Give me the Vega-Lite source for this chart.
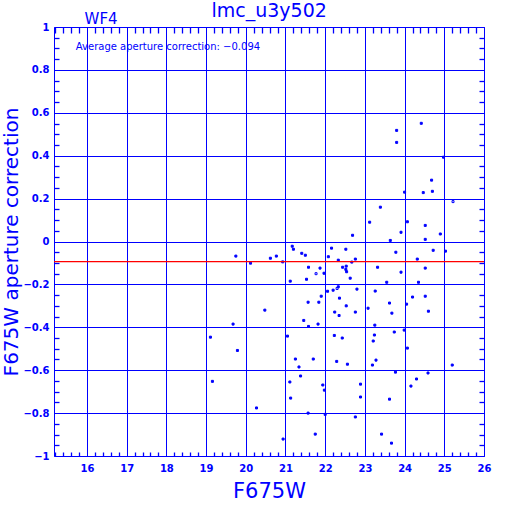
{
  "$schema": "https://vega.github.io/schema/vega-lite/v6.json",
  "width": 430,
  "height": 429,
  "autosize": "none",
  "padding": {"left": 54, "top": 27, "right": 28, "bottom": 56},
  "background": "white",
  "config": {"view": {"stroke": "#0000ff", "strokeWidth": 1}, "font": "DejaVu Sans"},
  "datasets": {
    "points": [
      {"x": 19.75, "y": -0.068, "kind": "filled"},
      {"x": 20.12, "y": -0.101, "kind": "filled"},
      {"x": 20.62, "y": -0.078, "kind": "filled"},
      {"x": 20.77, "y": -0.068, "kind": "filled"},
      {"x": 20.93, "y": -0.095, "kind": "filled"},
      {"x": 21.17, "y": -0.022, "kind": "filled"},
      {"x": 21.20, "y": -0.036, "kind": "filled"},
      {"x": 21.41, "y": -0.055, "kind": "filled"},
      {"x": 21.50, "y": -0.064, "kind": "filled"},
      {"x": 21.58, "y": -0.120, "kind": "filled"},
      {"x": 21.87, "y": -0.124, "kind": "filled"},
      {"x": 21.77, "y": -0.150, "kind": "open"},
      {"x": 21.97, "y": -0.148, "kind": "filled"},
      {"x": 22.08, "y": -0.071, "kind": "filled"},
      {"x": 22.16, "y": -0.031, "kind": "filled"},
      {"x": 22.33, "y": -0.087, "kind": "filled"},
      {"x": 21.12, "y": -0.185, "kind": "filled"},
      {"x": 21.53, "y": -0.176, "kind": "filled"},
      {"x": 22.06, "y": -0.232, "kind": "filled"},
      {"x": 22.20, "y": -0.227, "kind": "filled"},
      {"x": 22.30, "y": -0.219, "kind": "open"},
      {"x": 22.33, "y": -0.211, "kind": "filled"},
      {"x": 21.90, "y": -0.255, "kind": "filled"},
      {"x": 22.36, "y": -0.264, "kind": "filled"},
      {"x": 21.57, "y": -0.283, "kind": "filled"},
      {"x": 21.84, "y": -0.283, "kind": "filled"},
      {"x": 20.48, "y": -0.320, "kind": "filled"},
      {"x": 21.46, "y": -0.368, "kind": "filled"},
      {"x": 19.68, "y": -0.385, "kind": "filled"},
      {"x": 21.58, "y": -0.396, "kind": "filled"},
      {"x": 21.82, "y": -0.385, "kind": "filled"},
      {"x": 22.24, "y": -0.329, "kind": "filled"},
      {"x": 22.35, "y": -0.345, "kind": "filled"},
      {"x": 22.23, "y": -0.438, "kind": "filled"},
      {"x": 19.11, "y": -0.446, "kind": "filled"},
      {"x": 21.05, "y": -0.441, "kind": "filled"},
      {"x": 19.79, "y": -0.508, "kind": "filled"},
      {"x": 21.25, "y": -0.548, "kind": "filled"},
      {"x": 21.70, "y": -0.548, "kind": "filled"},
      {"x": 21.34, "y": -0.585, "kind": "filled"},
      {"x": 22.29, "y": -0.559, "kind": "filled"},
      {"x": 19.16, "y": -0.652, "kind": "filled"},
      {"x": 21.11, "y": -0.655, "kind": "filled"},
      {"x": 21.38, "y": -0.627, "kind": "filled"},
      {"x": 21.94, "y": -0.669, "kind": "filled"},
      {"x": 21.98, "y": -0.693, "kind": "filled"},
      {"x": 21.13, "y": -0.730, "kind": "filled"},
      {"x": 20.27, "y": -0.776, "kind": "filled"},
      {"x": 21.57, "y": -0.800, "kind": "filled"},
      {"x": 22.00, "y": -0.806, "kind": "filled"},
      {"x": 20.94, "y": -0.921, "kind": "filled"},
      {"x": 21.75, "y": -0.898, "kind": "filled"},
      {"x": 24.42, "y": 0.551, "kind": "filled"},
      {"x": 23.80, "y": 0.518, "kind": "filled"},
      {"x": 23.80, "y": 0.462, "kind": "filled"},
      {"x": 24.98, "y": 0.393, "kind": "filled"},
      {"x": 24.68, "y": 0.286, "kind": "filled"},
      {"x": 24.47, "y": 0.228, "kind": "filled"},
      {"x": 24.70, "y": 0.234, "kind": "filled"},
      {"x": 24.00, "y": 0.230, "kind": "filled"},
      {"x": 25.22, "y": 0.186, "kind": "open"},
      {"x": 23.39, "y": 0.160, "kind": "filled"},
      {"x": 23.12, "y": 0.090, "kind": "filled"},
      {"x": 24.07, "y": 0.092, "kind": "filled"},
      {"x": 24.52, "y": 0.075, "kind": "filled"},
      {"x": 22.69, "y": 0.029, "kind": "filled"},
      {"x": 23.91, "y": 0.043, "kind": "filled"},
      {"x": 24.90, "y": 0.035, "kind": "filled"},
      {"x": 24.52, "y": 0.010, "kind": "filled"},
      {"x": 23.64, "y": 0.005, "kind": "filled"},
      {"x": 22.52, "y": -0.036, "kind": "filled"},
      {"x": 23.78, "y": -0.050, "kind": "filled"},
      {"x": 24.72, "y": -0.041, "kind": "filled"},
      {"x": 25.03, "y": -0.045, "kind": "filled"},
      {"x": 24.32, "y": -0.082, "kind": "filled"},
      {"x": 22.76, "y": -0.082, "kind": "filled"},
      {"x": 22.67, "y": -0.096, "kind": "filled"},
      {"x": 22.44, "y": -0.120, "kind": "filled"},
      {"x": 22.53, "y": -0.115, "kind": "filled"},
      {"x": 22.52, "y": -0.130, "kind": "filled"},
      {"x": 22.54, "y": -0.141, "kind": "filled"},
      {"x": 23.32, "y": -0.120, "kind": "filled"},
      {"x": 23.91, "y": -0.143, "kind": "filled"},
      {"x": 24.52, "y": -0.124, "kind": "filled"},
      {"x": 22.63, "y": -0.171, "kind": "filled"},
      {"x": 23.55, "y": -0.190, "kind": "filled"},
      {"x": 24.35, "y": -0.190, "kind": "filled"},
      {"x": 22.80, "y": -0.222, "kind": "filled"},
      {"x": 23.26, "y": -0.231, "kind": "filled"},
      {"x": 24.20, "y": -0.259, "kind": "filled"},
      {"x": 24.52, "y": -0.255, "kind": "filled"},
      {"x": 23.62, "y": -0.287, "kind": "filled"},
      {"x": 22.53, "y": -0.300, "kind": "filled"},
      {"x": 24.05, "y": -0.292, "kind": "filled"},
      {"x": 23.08, "y": -0.311, "kind": "filled"},
      {"x": 22.76, "y": -0.329, "kind": "filled"},
      {"x": 23.68, "y": -0.334, "kind": "filled"},
      {"x": 24.60, "y": -0.325, "kind": "filled"},
      {"x": 23.25, "y": -0.390, "kind": "filled"},
      {"x": 23.99, "y": -0.413, "kind": "filled"},
      {"x": 22.43, "y": -0.450, "kind": "filled"},
      {"x": 23.24, "y": -0.436, "kind": "filled"},
      {"x": 23.74, "y": -0.422, "kind": "filled"},
      {"x": 23.21, "y": -0.464, "kind": "filled"},
      {"x": 24.07, "y": -0.497, "kind": "filled"},
      {"x": 22.56, "y": -0.572, "kind": "filled"},
      {"x": 23.28, "y": -0.553, "kind": "filled"},
      {"x": 23.19, "y": -0.576, "kind": "filled"},
      {"x": 25.20, "y": -0.576, "kind": "filled"},
      {"x": 23.77, "y": -0.609, "kind": "filled"},
      {"x": 24.59, "y": -0.613, "kind": "filled"},
      {"x": 24.30, "y": -0.641, "kind": "filled"},
      {"x": 24.16, "y": -0.674, "kind": "filled"},
      {"x": 22.89, "y": -0.665, "kind": "filled"},
      {"x": 22.89, "y": -0.725, "kind": "filled"},
      {"x": 23.62, "y": -0.735, "kind": "filled"},
      {"x": 22.76, "y": -0.818, "kind": "filled"},
      {"x": 23.42, "y": -0.898, "kind": "filled"},
      {"x": 23.67, "y": -0.940, "kind": "filled"}
    ]
  },
  "layer": [
    {
      "data": {"name": "points"},
      "mark": {"type": "point", "shape": "square", "filled": false, "stroke": "#0000ff", "strokeWidth": 1, "size": 4, "opacity": 1},
      "encoding": {
        "x": {"field": "x", "type": "quantitative",
          "scale": {"domain": [15.17, 26], "nice": false, "zero": false},
          "axis": {"orient": "bottom", "values": [16, 17, 18, 19, 20, 21, 22, 23, 24, 25, 26],
            "grid": true, "gridColor": "#0000ff", "gridWidth": 1, "gridOpacity": 1,
            "ticks": false, "domain": false, "labelFlush": false, "labelOverlap": false,
            "labelColor": "#0000ff", "labelFont": "DejaVu Sans", "labelFontWeight": "bold", "labelFontSize": 10, "labelPadding": 7,
            "title": "F675W", "titleFont": "DejaVu Sans", "titleFontSize": 21, "titleFontWeight": "normal", "titleColor": "#0000ff",
            "titleBaseline": "alphabetic", "titleY": 41.5}},
        "y": {"field": "y", "type": "quantitative",
          "scale": {"domain": [-1, 1], "nice": false, "zero": false},
          "axis": {"orient": "left", "values": [-1, -0.8, -0.6, -0.4, -0.2, 0, 0.2, 0.4, 0.6, 0.8, 1],
            "format": ".1~f",
            "grid": true, "gridColor": "#0000ff", "gridWidth": 1, "gridOpacity": 1,
            "ticks": false, "domain": false, "labelFlush": false, "labelOverlap": false,
            "labelColor": "#0000ff", "labelFont": "DejaVu Sans", "labelFontWeight": "bold", "labelFontSize": 10, "labelPadding": 5,
            "title": "F675W aperture correction", "titleFont": "DejaVu Sans", "titleFontSize": 20, "titleFontWeight": "normal", "titleColor": "#0000ff",
            "titleBaseline": "alphabetic", "titleX": -37}},
        "fill": {"field": "kind", "type": "nominal", "scale": {"domain": ["filled", "open"], "range": ["#0000ff", "#ffffff"]}, "legend": null}
      }
    },
    {
      "data": {"values": [{}]},
      "mark": {"type": "rule", "color": "#ff0000", "strokeWidth": 1.3},
      "encoding": {
        "x": {"datum": 15.17, "type": "quantitative",
          "scale": {"domain": [15.17, 26], "nice": false, "zero": false},
          "axis": {"orient": "top", "values": [15.2, 15.4, 15.6, 15.8, 16.2, 16.4, 16.6, 16.8, 17.2, 17.4, 17.6, 17.8, 18.2, 18.4, 18.6, 18.8, 19.2, 19.4, 19.6, 19.8, 20.2, 20.4, 20.6, 20.8, 21.2, 21.4, 21.6, 21.8, 22.2, 22.4, 22.6, 22.8, 23.2, 23.4, 23.6, 23.8, 24.2, 24.4, 24.6, 24.8, 25.2, 25.4, 25.6, 25.8],
            "grid": false, "domain": false, "labels": false, "title": null, "ticks": true, "tickColor": "#0000ff", "tickWidth": 1.3, "tickSize": -6}},
        "x2": {"datum": 26},
        "y": {"datum": -0.094, "type": "quantitative",
          "scale": {"domain": [-1, 1], "nice": false, "zero": false},
          "axis": {"orient": "right", "values": [-0.95, -0.9, -0.85, -0.75, -0.7, -0.65, -0.55, -0.5, -0.45, -0.35, -0.3, -0.25, -0.15, -0.1, -0.05, 0.05, 0.1, 0.15, 0.25, 0.3, 0.35, 0.45, 0.5, 0.55, 0.65, 0.7, 0.75, 0.85, 0.9, 0.95],
            "grid": false, "domain": false, "labels": false, "title": null, "ticks": true, "tickColor": "#0000ff", "tickWidth": 1.3, "tickSize": -5}}
      }
    },
    {
      "data": {"values": [{"x": 15.72, "y": 0.891, "label": "Average aperture correction: −0.094"}]},
      "mark": {"type": "text", "align": "left", "baseline": "alphabetic", "font": "DejaVu Sans", "fontSize": 10, "color": "#0000ff"},
      "encoding": {
        "x": {"field": "x", "type": "quantitative",
          "scale": {"domain": [15.17, 26], "nice": false, "zero": false},
          "axis": {"orient": "bottom", "values": [15.2, 15.4, 15.6, 15.8, 16.2, 16.4, 16.6, 16.8, 17.2, 17.4, 17.6, 17.8, 18.2, 18.4, 18.6, 18.8, 19.2, 19.4, 19.6, 19.8, 20.2, 20.4, 20.6, 20.8, 21.2, 21.4, 21.6, 21.8, 22.2, 22.4, 22.6, 22.8, 23.2, 23.4, 23.6, 23.8, 24.2, 24.4, 24.6, 24.8, 25.2, 25.4, 25.6, 25.8],
            "grid": false, "domain": false, "labels": false, "title": null, "ticks": true, "tickColor": "#0000ff", "tickWidth": 1.3, "tickSize": -4}},
        "y": {"field": "y", "type": "quantitative",
          "scale": {"domain": [-1, 1], "nice": false, "zero": false},
          "axis": {"orient": "left", "values": [-0.95, -0.9, -0.85, -0.75, -0.7, -0.65, -0.55, -0.5, -0.45, -0.35, -0.3, -0.25, -0.15, -0.1, -0.05, 0.05, 0.1, 0.15, 0.25, 0.3, 0.35, 0.45, 0.5, 0.55, 0.65, 0.7, 0.75, 0.85, 0.9, 0.95],
            "grid": false, "domain": false, "labels": false, "title": null, "ticks": true, "tickColor": "#0000ff", "tickWidth": 1.3, "tickSize": -5}},
        "text": {"field": "label"}
      }
    },
    {
      "data": {"values": [{"x": 15.94, "y": 1.015, "label": "WF4"}]},
      "mark": {"type": "text", "align": "left", "baseline": "alphabetic", "font": "DejaVu Sans", "fontSize": 15, "color": "#0000ff", "clip": false},
      "encoding": {
        "x": {"field": "x", "type": "quantitative", "scale": {"domain": [15.17, 26], "nice": false, "zero": false}, "axis": null},
        "y": {"field": "y", "type": "quantitative", "scale": {"domain": [-1, 1], "nice": false, "zero": false}, "axis": null},
        "text": {"field": "label"}
      }
    },
    {
      "data": {"values": [{"x": 20.59, "y": 1.047, "label": "lmc_u3y502"}]},
      "mark": {"type": "text", "align": "center", "baseline": "alphabetic", "font": "DejaVu Sans", "fontSize": 19, "color": "#0000ff", "clip": false},
      "encoding": {
        "x": {"field": "x", "type": "quantitative", "scale": {"domain": [15.17, 26], "nice": false, "zero": false}, "axis": null},
        "y": {"field": "y", "type": "quantitative", "scale": {"domain": [-1, 1], "nice": false, "zero": false}, "axis": null},
        "text": {"field": "label"}
      }
    }
  ],
  "resolve": {"axis": {"x": "independent", "y": "independent"}}
}
